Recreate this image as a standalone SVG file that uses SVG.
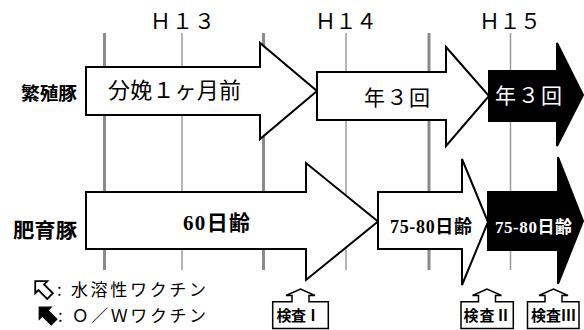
<svg xmlns="http://www.w3.org/2000/svg" width="584" height="330" viewBox="0 0 584 330">
<style>
.grid-thick{stroke:#8a8a8a;stroke-width:3}
.grid-thin{stroke:#9a9a9a;stroke-width:1.5}
.arr-w{fill:#fff;stroke:#000;stroke-width:2;stroke-linejoin:miter}
.arr-b{fill:#000;stroke:#000;stroke-width:2;stroke-linejoin:miter}
.jp{font-family:"Noto Sans CJK JP","Noto Sans CJK SC",sans-serif}
.num{font-family:"Liberation Serif","Noto Sans CJK JP",serif;font-weight:bold}
.hdr{font-size:21px;fill:#000}
.lbl{font-size:18px;font-weight:bold;fill:#000}
.box{fill:#fff;stroke:#000;stroke-width:1.5;stroke-linejoin:miter}
.boxtxt{font-size:15px;font-weight:bold;fill:#000}
.leg{font-size:17px;fill:#000}
</style>
<defs>
<polygon id="legArrow" points="0,-11 8.5,-2.5 4,-2.5 4,10 -4,10 -4,-2.5 -8.5,-2.5"/>
</defs>

<g id="grid">
<line class="grid-thick" x1="104.5" y1="33" x2="104.5" y2="270"/>
<line class="grid-thin" x1="182" y1="33" x2="182" y2="270"/>
<line class="grid-thick" x1="263.5" y1="33" x2="263.5" y2="270"/>
<line class="grid-thin" x1="346" y1="33" x2="346" y2="270"/>
<line class="grid-thick" x1="429" y1="33" x2="429" y2="270"/>
<line class="grid-thin" x1="510.5" y1="33" x2="510.5" y2="270"/>
</g>

<g id="headers" class="jp hdr">
<text x="150" y="29" textLength="65" lengthAdjust="spacing">Ｈ１３</text>
<text x="315" y="29" textLength="62" lengthAdjust="spacing">Ｈ１４</text>
<text x="479" y="29" textLength="62" lengthAdjust="spacing">Ｈ１５</text>
</g>

<g id="row-labels" class="jp lbl">
<text x="21" y="100" textLength="56" lengthAdjust="spacingAndGlyphs">繁殖豚</text>
<text x="13" y="237.5" style="font-size:20px" textLength="64" lengthAdjust="spacingAndGlyphs">肥育豚</text>
</g>

<g id="connectors"></g>

<g id="arrow1">
<polygon class="arr-w" points="86,67 260,67 260,43 317,91 260,139 260,115 86,115"/>
<text class="jp" x="108" y="98" font-size="22" textLength="133" lengthAdjust="spacing">分娩１ヶ月前</text>
</g>
<g id="arrow2">
<polygon class="arr-w" points="317,72 446,72 446,47 489,96 446,146 446,120 317,120"/>
<text class="jp" x="364" y="105" font-size="21" textLength="66" lengthAdjust="spacing">年３回</text>
</g>
<g id="arrow3">
<polygon class="arr-b" points="489,71 557,71 557,43 583,95 557,146 557,121 489,121"/>
<text class="jp" x="495" y="103" font-size="21" fill="#fff" textLength="67" lengthAdjust="spacing">年３回</text>
</g>
<g id="arrow4">
<polygon class="arr-w" points="86,192 306,192 306,163 378,221.5 306,280 306,249 86,249"/>
<text class="num" x="183" y="229.5" font-size="21" textLength="67" lengthAdjust="spacing">60<tspan class="jp" font-weight="bold">日齢</tspan></text>
</g>
<g id="arrow5">
<polygon class="arr-w" points="378,192 462,192 462,159 488,222 462,285 462,249 378,249"/>
<text class="num" x="390" y="233" font-size="18" textLength="82" lengthAdjust="spacing">75-80<tspan class="jp" font-weight="bold">日齢</tspan></text>
</g>
<g id="arrow6">
<polygon class="arr-b" points="488,192 558,192 558,157 583,221 558,284 558,250 488,250"/>
<text class="num" x="495" y="232.5" font-size="17" fill="#fff" textLength="77" lengthAdjust="spacing">75-80<tspan class="jp" font-weight="bold">日齢</tspan></text>
</g>

<g id="check1">
<path class="box" d="M272.7,328.5 V301.7 H292 V295.5 H286 L300.5,289 L315,295.5 H309 V301.7 H328.3 V328.5 Z"/>
<text class="jp boxtxt" x="276.5" y="320.5" textLength="44" lengthAdjust="spacing">検査Ⅰ</text>
</g>
<g id="check2">
<path class="box" d="M461,328.5 V301.7 H478.5 V295.5 H472.5 L487,289 L501.5,295.5 H495.5 V301.7 H513.3 V328.5 Z"/>
<text class="jp boxtxt" x="463.5" y="320.5" textLength="47" lengthAdjust="spacing">検査Ⅱ</text>
</g>
<g id="check3">
<path class="box" d="M527.5,328.5 V301.7 H545 V295.5 H539 L553.5,289 L568,295.5 H562 V301.7 H579 V328.5 Z"/>
<text class="jp boxtxt" x="531" y="320.5" textLength="45" lengthAdjust="spacing">検査Ⅲ</text>
</g>

<g id="legend">
<use href="#legArrow" transform="translate(43,289) rotate(-45)" fill="#fff" stroke="#000" stroke-width="1.8"/>
<text class="jp leg" x="57" y="296" textLength="149" lengthAdjust="spacing">: 水溶性ワクチン</text>
<use href="#legArrow" transform="translate(47,315) rotate(-45)" fill="#000" stroke="#000" stroke-width="1.2"/>
<text class="jp leg" x="58" y="322" textLength="148" lengthAdjust="spacing">: Ｏ／Ｗワクチン</text>
</g>
</svg>
